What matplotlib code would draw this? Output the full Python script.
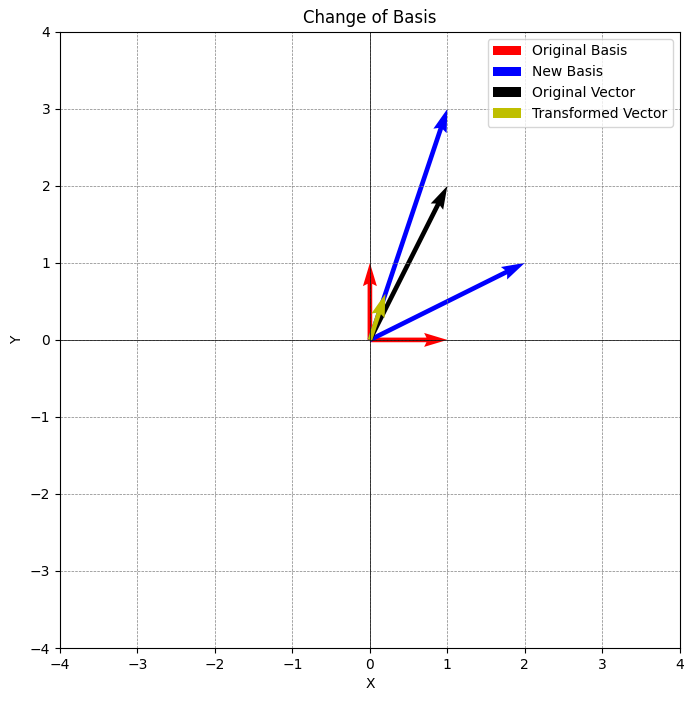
import numpy as np
import matplotlib
matplotlib.use("Agg")
import matplotlib.pyplot as plt

# basis vectors and the vector to transform
orig_basis = np.array([[1, 0], [0, 1]])
new_basis = np.array([[2, 1], [1, 3]])   # columns are the new basis vectors
vector = np.array([1, 2])
transformed = np.linalg.solve(new_basis, vector)

fig = plt.figure(figsize=(6.94, 7.01), dpi=100)
ax = fig.add_axes([0.0865, 0.0756, 0.893, 0.879])

ax.quiver([0, 0], [0, 0], orig_basis[0], orig_basis[1], color='r',
          angles='xy', scale_units='xy', scale=1, label='Original Basis')
ax.quiver([0, 0], [0, 0], new_basis[0], new_basis[1], color='b',
          angles='xy', scale_units='xy', scale=1, label='New Basis')
ax.quiver(0, 0, vector[0], vector[1], color='k',
          angles='xy', scale_units='xy', scale=1, label='Original Vector')
ax.quiver(0, 0, transformed[0], transformed[1], color='y',
          angles='xy', scale_units='xy', scale=1, label='Transformed Vector')

ax.set_xlim(-4, 4)
ax.set_ylim(-4, 4)
ax.axhline(0, color='black', linewidth=0.5)
ax.axvline(0, color='black', linewidth=0.5)
ax.grid(color='gray', linestyle='--', linewidth=0.5)
ax.set_xlabel('X')
ax.set_ylabel('Y')
ax.set_title('Change of Basis')
ax.legend(loc='upper right')

fig.savefig('out.png')
